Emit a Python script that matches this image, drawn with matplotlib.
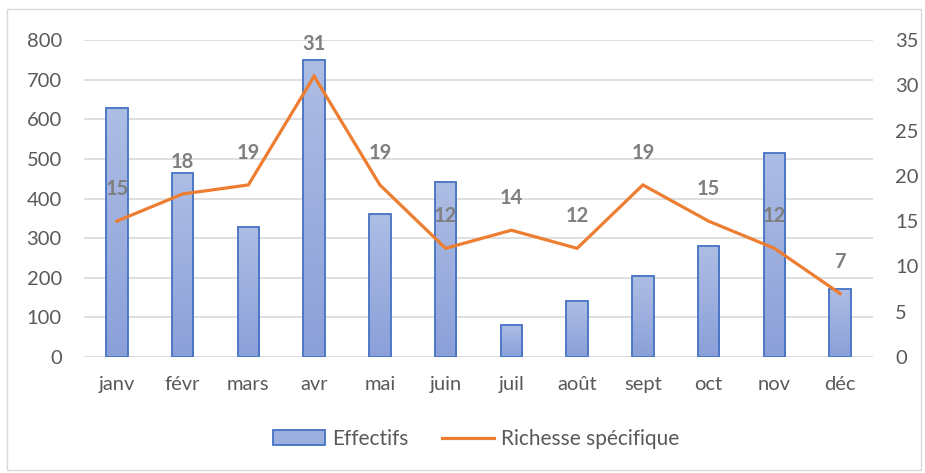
import numpy as np
import matplotlib
matplotlib.use("Agg")
import matplotlib.pyplot as plt
from matplotlib.patches import Patch, Rectangle
from matplotlib.lines import Line2D
from matplotlib.colors import LinearSegmentedColormap

plt.rcParams['font.family'] = ['Lato', 'DejaVu Sans']

mois = ['janv', 'févr', 'mars', 'avr', 'mai', 'juin',
        'juil', 'août', 'sept', 'oct', 'nov', 'déc']
effectifs = [628, 465, 328, 750, 362, 441, 82, 141, 204, 280, 515, 172]
richesse = [15, 18, 19, 31, 19, 12, 14, 12, 19, 15, 12, 7]

gris = '#595959'
bleu_bord = '#4472c4'
orange = '#ed7d31'

fig = plt.figure(figsize=(9.25, 4.73), dpi=100)
ax = fig.add_axes([0.0908, 0.2452, 0.8530, 0.6702])
ax2 = ax.twinx()

x = np.arange(len(mois))
larg = 0.33

# barres avec dégradé vertical
degrade = LinearSegmentedColormap.from_list('bleus', ['#8ba0d9', '#aebde4'])
bars = ax.bar(x, effectifs, width=larg, facecolor='none', edgecolor=bleu_bord,
              linewidth=1.3, zorder=3)
for b in bars:
    x0, y0 = b.get_x(), b.get_y()
    w, h = b.get_width(), b.get_height()
    img = ax.imshow(np.linspace(0, 1, 100).reshape(-1, 1), cmap=degrade,
                    extent=[x0, x0 + w, y0, y0 + h], origin='lower',
                    aspect='auto', zorder=2)
    img.set_clip_path(Rectangle((x0, y0), w, h, transform=ax.transData))

ax.set_xlim(-0.5, len(mois) - 0.5)
ax.set_ylim(0, 800)
ax.set_yticks(range(0, 801, 100))
ax.set_xticks(x)
ax.set_xticklabels(mois)
ax.grid(axis='y', color='#d9d9d9', linewidth=1.2, zorder=0)
ax.set_axisbelow(True)

ax2.plot(x, richesse, color=orange, linewidth=2.3, zorder=4,
         solid_joinstyle='miter')
ax2.set_ylim(0, 35)
ax2.set_yticks(range(0, 36, 5))
for v, r in zip(x, richesse):
    ax2.annotate(str(r), (v, r), xytext=(0, 23), textcoords='offset points',
                 ha='center', va='center', fontsize=14.5, fontweight='bold',
                 color='#7f7f7f', zorder=5)

for a in (ax, ax2):
    for s in a.spines.values():
        s.set_visible(False)
    a.tick_params(length=0, colors=gris, labelsize=14.5)
ax.tick_params(axis='y', pad=16)
ax.tick_params(axis='x', pad=14)
ax2.tick_params(axis='y', pad=16)

handles = [Patch(facecolor='#9cafdf', edgecolor=bleu_bord, linewidth=1.3),
           Line2D([0], [0], color=orange, linewidth=2.3)]
fig.legend(handles, ['Effectifs', 'Richesse spécifique'], loc='center',
           bbox_to_anchor=(0.515, 0.072), ncol=2, frameon=False,
           fontsize=15, labelcolor=gris, handlelength=2.5,
           handletextpad=0.35, columnspacing=1.6)

# cadre autour du graphique
fig.patches.append(Rectangle((0.008, 0.006), 0.988, 0.975,
                             transform=fig.transFigure, fill=False,
                             edgecolor='#d9d9d9', linewidth=1))

fig.savefig('out.png', dpi=100)
